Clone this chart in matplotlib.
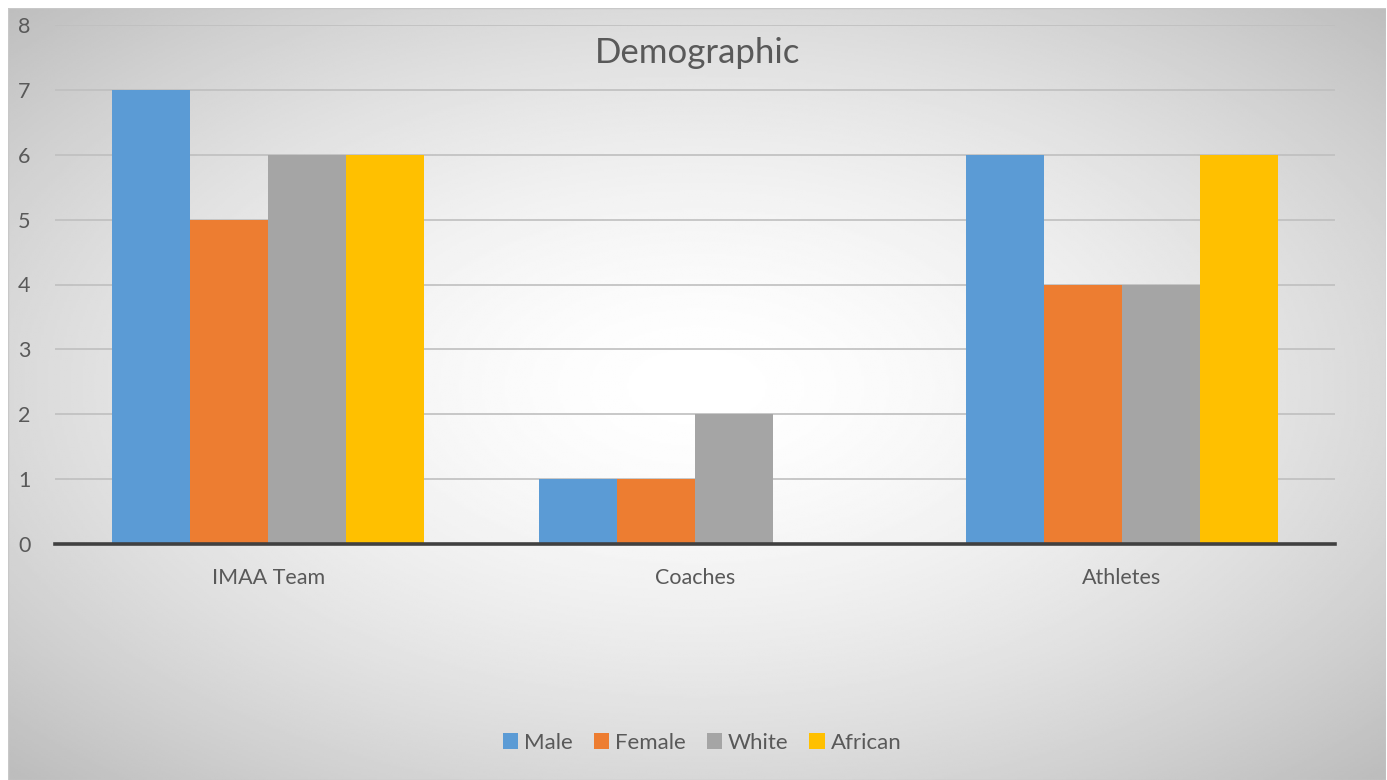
import numpy as np
import matplotlib.pyplot as plt
from matplotlib.patches import Rectangle

categories = ['IMAA Team', 'Coaches', 'Athletes']
male = [7, 1, 6]
female = [5, 1, 4]
white = [6, 2, 4]
african = [6, 0, 6]

series = [('Male', male, '#5B9BD5'),
          ('Female', female, '#ED7D31'),
          ('White', white, '#A5A5A5'),
          ('African', african, '#FFC000')]

plt.rcParams['font.family'] = ['Lato', 'DejaVu Sans']
W, H = 1387, 780
fig = plt.figure(figsize=(W / 100, H / 100), dpi=100)
fig.patch.set_facecolor('white')

# radial gradient background of the chart area
bg = fig.add_axes([8 / W, 0, (W - 9) / W, (H - 8) / H], zorder=-5)
xx, yy = np.meshgrid(np.linspace(-1, 1, 600), np.linspace(-1, 1, 400))
r = np.sqrt(xx ** 2 + (yy + 0.02) ** 2) / np.sqrt(2)
shade = 1 - 0.26 * np.clip(r, 0, 1) ** 1.6
bg.imshow(shade, cmap='gray', vmin=0, vmax=1, aspect='auto', extent=[0, 1, 0, 1])
bg.set_xlim(0, 1)
bg.set_ylim(0, 1)
bg.axis('off')
bg.add_patch(Rectangle((0, 0), 1, 1, fill=False, edgecolor='#c8c8c8', lw=1,
                       transform=bg.transAxes))

ax = fig.add_axes([55 / W, 1 - 544 / H, (1335 - 55) / W, (544 - 25) / H])
ax.set_facecolor('none')
x = np.arange(len(categories))
bw = 0.183
for i, (name, vals, col) in enumerate(series):
    ax.bar(x + (i - 1.5) * bw, vals, bw, color=col, label=name, zorder=3)

ax.set_xlim(-0.5, 2.5)
ax.set_ylim(0, 8)
ax.set_yticks(range(9))
ax.yaxis.grid(True, color='#bfbfbf', lw=1.2, zorder=0)
ax.axhline(0, color='#404040', lw=2.6, zorder=4, clip_on=False)
for s in ax.spines.values():
    s.set_visible(False)
ax.tick_params(length=0, labelsize=15.5, colors='#595959')
ax.tick_params(axis='y', pad=22)
ax.tick_params(axis='x', pad=17)
ax.set_xticks(x)
ax.set_xticklabels(categories)
for t in ax.get_yticklabels():
    t.set_horizontalalignment('center')

fig.text(698 / W, 1 - 53 / H, 'Demographic', ha='center', va='center',
         fontsize=25, color='#595959')

leg = fig.legend(loc='center', bbox_to_anchor=(702 / W, 1 - 743 / H), ncol=4,
                 frameon=False, fontsize=16, handlelength=0.7, handleheight=0.7,
                 handletextpad=0.25, columnspacing=0.95)
for t in leg.get_texts():
    t.set_color('#595959')

fig.savefig('out.png', dpi=100)
